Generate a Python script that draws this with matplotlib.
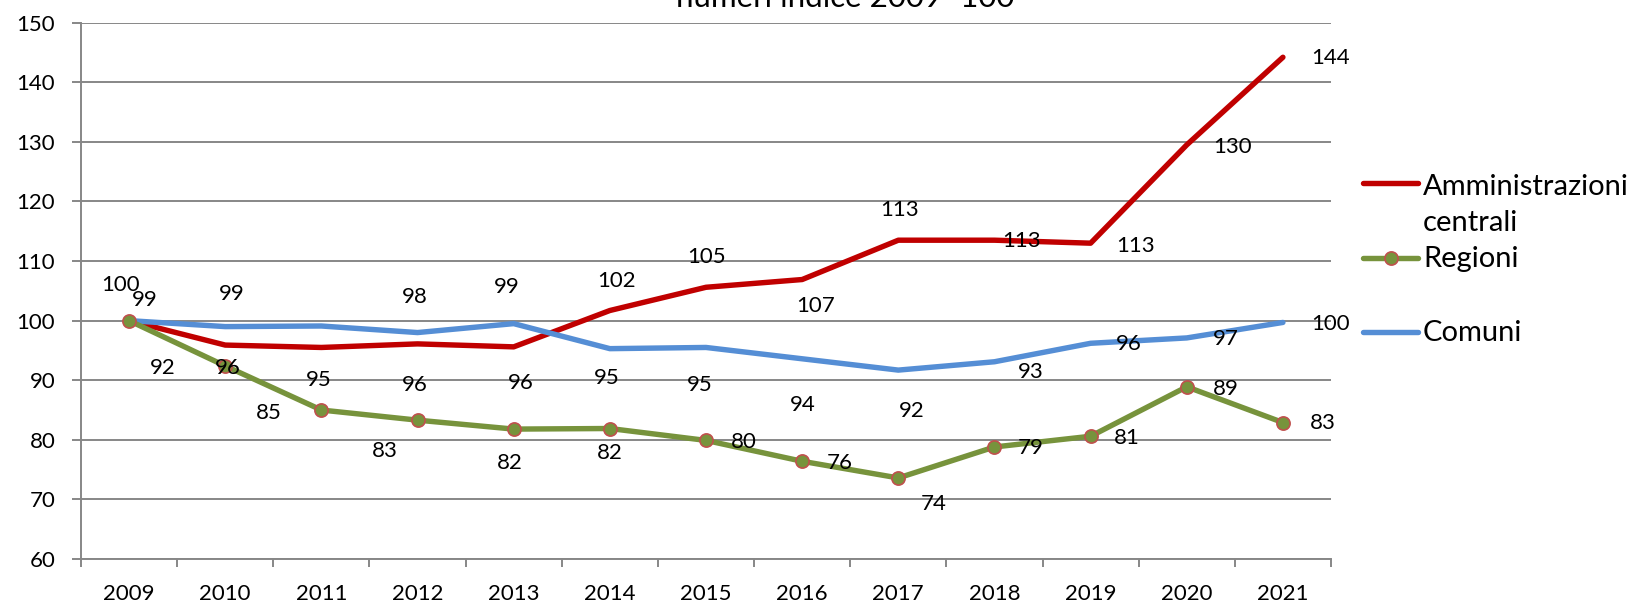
import matplotlib
matplotlib.use("Agg")
import matplotlib.pyplot as plt
from matplotlib.lines import Line2D
import numpy as np

plt.rcParams["font.family"] = ["Lato", "DejaVu Sans"]

years = ["2009", "2010", "2011", "2012", "2013", "2014", "2015",
         "2016", "2017", "2018", "2019", "2020", "2021"]

amm_centrali = [100, 95.9, 95.5, 96.1, 95.6, 101.7, 105.6, 106.9, 113.5, 113.5, 113.0, 129.5, 144.2]
regioni = [100, 92.4, 85.0, 83.3, 81.8, 81.9, 79.9, 76.4, 73.6, 78.8, 80.6, 88.9, 82.9]
comuni = [100, 99.0, 99.1, 98.0, 99.5, 95.3, 95.5, 93.6, 91.7, 93.1, 96.2, 97.1, 99.7]

# data labels as shown in the source (Excel placed them loosely)
amm_labels = ["100", "96", "95", "96", "96", "102", "105", "107", "113", "113", "113", "130", "144"]
reg_labels = [None, "92", "85", "83", "82", "82", "80", "76", "74", "79", "81", "89", "83"]
com_labels = ["99", "99", None, "98", "99", "95", "95", "94", "92", "93", "96", "97", "100"]

series_names = ["Amministrazioni\ncentrali", "Regioni", "Comuni"]

# label offsets (category units, value units) relative to each point
amm_off = [(-0.09, 5.9), (0.03, -3.8), (-0.03, -5.5), (-0.03, -6.9), (0.07, -6.1),
           (0.07, 5.0), (0.01, 5.1), (0.14, -4.4), (0.01, 5.0), (0.28, -0.2),
           (0.47, -0.4), (0.48, -0.3), (0.49, -0.2)]
reg_off = [(0, 0), (-0.65, -0.3), (-0.55, -0.5), (-0.34, -5.2), (-0.04, -5.7),
           (0.0, -4.1), (0.39, -0.3), (0.39, -0.3), (0.37, -4.3), (0.38, -0.2),
           (0.38, -0.3), (0.41, -0.4), (0.42, 0.0)]
com_off = [(0.16, 3.5), (0.07, 5.4), (0, 0), (-0.03, 5.9), (-0.07, 6.1),
           (-0.03, -5.0), (-0.07, -6.3), (0.01, -7.8), (0.14, -6.8), (0.38, -1.7),
           (0.40, -0.1), (0.41, -0.2), (0.49, -0.3)]

RED = "#C00000"
GREEN = "#77933C"
BLUE = "#558ED5"
MARK_EDGE = "#C0504D"
GRID = "#878787"
LW = 3.9

W, H = 1639, 603
fig = plt.figure(figsize=(W / 100, H / 100), dpi=100)
ax = fig.add_axes([81 / W, 1 - 559 / H, (1331 - 81) / W, (559 - 22.7) / H])

x = np.arange(len(years))
ax.plot(x, amm_centrali, color=RED, lw=LW, zorder=2, solid_capstyle="round")
ax.plot(x, comuni, color=BLUE, lw=LW, zorder=3, solid_capstyle="round")
ax.plot(x, regioni, color=GREEN, lw=LW, zorder=4, marker="o", ms=9.5,
        mfc=GREEN, mec=MARK_EDGE, mew=1.2, solid_capstyle="round")

for vals, labs, offs in [(amm_centrali, amm_labels, amm_off),
                         (regioni, reg_labels, reg_off),
                         (comuni, com_labels, com_off)]:
    for i, (v, lab) in enumerate(zip(vals, labs)):
        if lab is None:
            continue
        dx, dy = offs[i]
        ax.text(i + dx, v + dy, lab, ha="center", va="center", fontsize=16,
                color="black", zorder=6)

ax.set_xlim(-0.5, len(years) - 0.5)
ax.set_ylim(60, 150)
ax.set_yticks(np.arange(60, 151, 10))
ax.set_xticks(x)
ax.set_xticklabels(years)
ax.set_xticks(np.arange(-0.5, len(years), 1), minor=True)
ax.tick_params(axis="x", which="major", length=0, pad=18, labelsize=16, labelcolor="black")
ax.tick_params(axis="x", which="minor", length=6, width=1.4, color=GRID, direction="out")
ax.tick_params(axis="y", length=6.5, width=1.4, color=GRID, pad=12, labelsize=16,
               labelcolor="black")

ax.yaxis.grid(True, color=GRID, lw=1.4)
ax.set_axisbelow(True)
for s in ["top", "right"]:
    ax.spines[s].set_visible(False)
for s in ["left", "bottom"]:
    ax.spines[s].set_color(GRID)
    ax.spines[s].set_linewidth(1.4)

# title, cut at the top as in the source
fig.text(845 / W, 1 - 7 / H, "numeri indice 2009=100", ha="center", va="baseline",
         fontsize=22.5)

# legend drawn by hand to mimic the Excel layout
leg_y = [183.3, 257.7, 331.7]
leg_col = [RED, GREEN, BLUE]
line_step = 38.4
for name, col, ly in zip(series_names, leg_col, leg_y):
    fy = 1 - ly / H
    fig.add_artist(Line2D([1363 / W, 1418 / W], [fy, fy], transform=fig.transFigure,
                          color=col, lw=LW, solid_capstyle="round"))
    if col == GREEN:
        fig.add_artist(Line2D([1391 / W], [fy], transform=fig.transFigure,
                              marker="o", ms=9.5, mfc=GREEN, mec=MARK_EDGE, mew=1.2))
    n_extra = name.count("\n")
    fig.text(1423 / W, 1 - (ly + 9.5 + n_extra * line_step) / H, name, ha="left",
             va="baseline", fontsize=21, linespacing=1.5)

fig.savefig("out.png", dpi=100)
